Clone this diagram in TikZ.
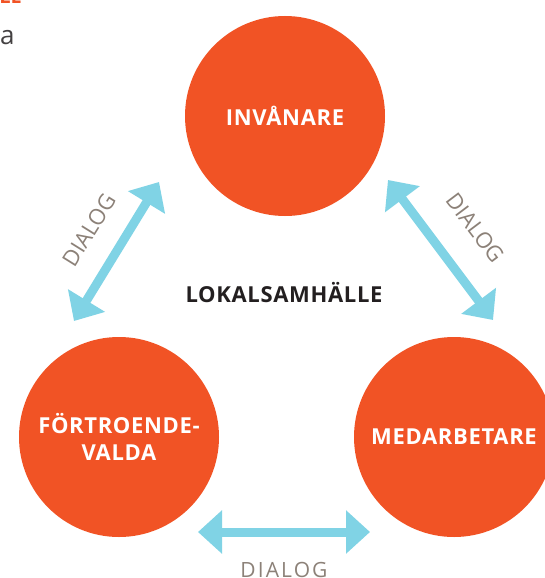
\documentclass[tikz,border=0pt]{standalone}
\usepackage{fontspec}
\setmainfont{Open Sans}
\usetikzlibrary{arrows.meta}
\definecolor{orng}{HTML}{F15325}
\definecolor{ablue}{HTML}{80D3E5}
\definecolor{dgray}{HTML}{8C8178}
\definecolor{dark}{HTML}{231F20}
\begin{document}
\begin{tikzpicture}[x=1pt,y=-1pt,
  circ/.style={circle, fill=orng, minimum size=200pt, inner sep=0pt, text=white,
    font=\fontsize{22}{27}\selectfont\bfseries\addfontfeatures{LetterSpace=3}, align=center},
  dlg/.style={text=dgray, inner sep=0pt,
    font=\fontsize{22}{22}\selectfont},
  dialogarrow/.style={draw=ablue, line width=9pt,
    {Triangle[length=24pt,width=42pt]}-{Triangle[length=24pt,width=42pt]}}]
\useasboundingbox[fill=white] (0,0) rectangle (545,578);

\node[anchor=base east, inner sep=0pt, text=orng, font=\fontsize{20}{20}\selectfont\bfseries] (hd) at (22,4) {LE};
\node[anchor=base west, inner sep=0pt, text=dark!85, font=\fontsize{26}{26}\selectfont] (pa) at (0,45) {a};

\node[circ] (inv) at (285,116) {INVÅNARE};
\node[circ] (fv) at (119,437) {FÖRTROENDE-\\VALDA};
\node[circ] (med) at (454,437) {MEDARBETARE};

\node[text=dark, inner sep=0pt, font=\fontsize{22}{22}\selectfont\bfseries\addfontfeatures{LetterSpace=3}] (lok) at (284,293) {LOKALSAMHÄLLE};

\coordinate (a1s) at (74,321);
\coordinate (a1e) at (159,182);
\coordinate (a2s) at (388,180);
\coordinate (a2e) at (493,320);
\coordinate (a3s) at (198,532);
\coordinate (a3e) at (370,532);
\draw[dialogarrow] (a1s) -- (a1e);
\draw[dialogarrow] (a2s) -- (a2e);
\draw[dialogarrow] (a3s) -- (a3e);

\node[dlg, rotate=58] (d1) at (89,230) {DIALOG};
\node[dlg, rotate=-53] (d2) at (475,228) {DIALOG};
\node[dlg, anchor=base, font=\fontsize{21}{21}\selectfont\addfontfeatures{LetterSpace=10}] (d3) at (284,577) {DIALOG};
\end{tikzpicture}
\end{document}
